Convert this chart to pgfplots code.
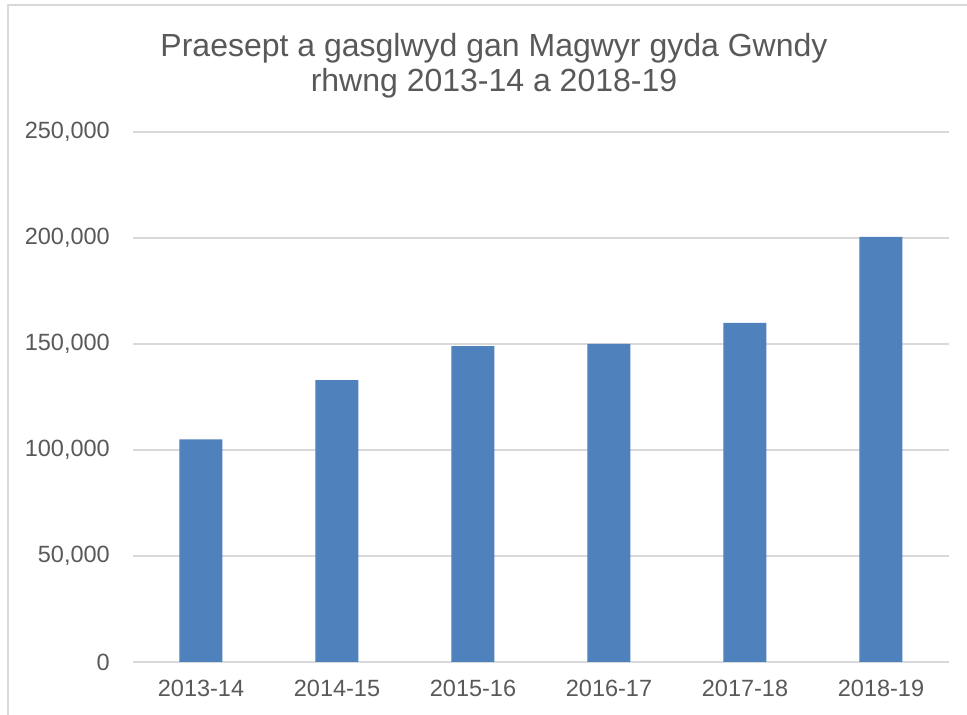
\documentclass[border=0pt]{standalone}
\usepackage{pgfplots}
\pgfplotsset{compat=1.18}
\usepackage{fontspec}
\setmainfont{Liberation Sans}
\definecolor{barblue}{HTML}{4F81BD}
\definecolor{txtgray}{HTML}{595959}
\definecolor{gridgray}{HTML}{D9D9D9}
\begin{document}
\begin{tikzpicture}
\path[use as bounding box] (0pt,0pt) rectangle (967pt,715pt);
\fill[white] (0pt,0pt) rectangle (967pt,715pt);
\draw[gridgray, line width=1.5pt] (8pt,-10pt) -- (8pt,710pt) -- (980pt,710pt);
\node[anchor=base, text=txtgray, font=\fontsize{32}{37}\selectfont] at (494pt,658pt) {Praesept a gasglwyd gan Magwyr gyda Gwndy};
\node[anchor=base, text=txtgray, font=\fontsize{32}{37}\selectfont] at (494pt,623pt) {rhwng 2013-14 a 2018-19};
\begin{axis}[
  at={(133pt,53pt)}, anchor=south west,
  scale only axis, width=816pt, height=530pt,
  xmin=-0.5, xmax=5.5, ymin=0, ymax=250000,
  axis line style={draw=none},
  major tick length=0pt,
  xtick=data,
  xticklabels={2013-14,2014-15,2015-16,2016-17,2017-18,2018-19},
  ytick={0,50000,100000,150000,200000,250000},
  scaled y ticks=false,
  yticklabel style={/pgf/number format/1000 sep={,}, /pgf/number format/fixed},
  /pgf/number format/assume math mode=true,
  tick label style={text=txtgray, font=\fontsize{23.5}{28}\selectfont, inner sep=0pt},
  yticklabel style={anchor=east, xshift=-23pt},
  xticklabel style={anchor=north, yshift=-18pt},
  ymajorgrids,
  grid style={gridgray, line width=1.5pt},
  ybar, bar width=43pt,
  clip=false,
]
\addplot[fill=barblue, draw=none] coordinates {(0,105000) (1,133000) (2,149000) (3,150000) (4,160000) (5,200500)};
\end{axis}
\end{tikzpicture}
\end{document}
